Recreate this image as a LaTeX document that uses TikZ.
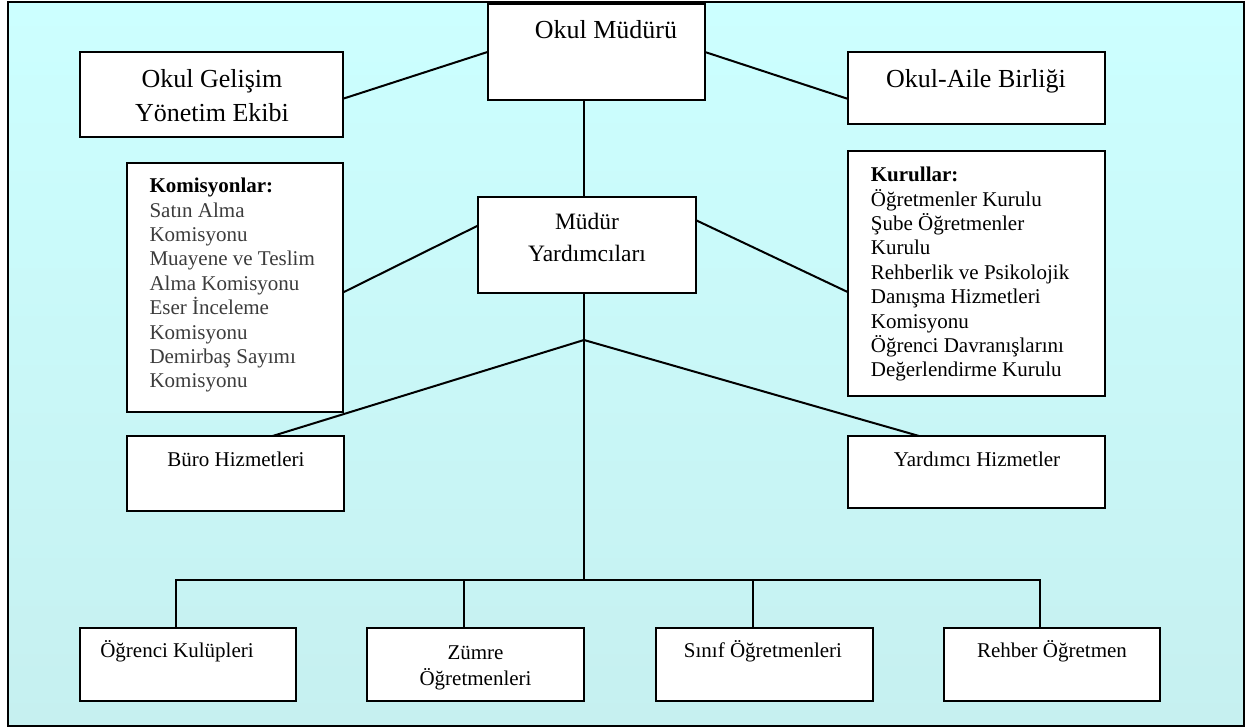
\documentclass[tikz,border=0pt]{standalone}
\usepackage{fontspec}
\setmainfont{Liberation Serif}
\usetikzlibrary{calc}
\definecolor{bgtop}{RGB}{204,255,255}
\definecolor{bgbot}{RGB}{198,240,240}
\definecolor{itemgray}{RGB}{60,60,60}
\tikzset{
  box/.style={draw=black, line width=2pt, fill=white, inner sep=0pt, outer sep=0pt},
  conn/.style={draw=black, line width=2pt},
  big/.style={font=\fontsize{26}{34.4}\selectfont, inner sep=0pt, align=center, anchor=base},
  mid/.style={font=\fontsize{23.5}{32.4}\selectfont, inner sep=0pt, align=center, anchor=base},
  small/.style={font=\fontsize{21}{26}\selectfont, inner sep=0pt, align=center, anchor=base},
  list/.style={font=\fontsize{21}{24.4}\selectfont, inner sep=0pt, align=left, anchor=base west},
}
\begin{document}
\begin{tikzpicture}[x=1pt, y=-1pt]
\useasboundingbox (0,0) rectangle (1248,727);
% frame
\path[top color=bgtop, bottom color=bgbot] (8,2) rectangle (1244,726);
\draw[line width=2.4pt] (8,2) rectangle (1244,726);

% boxes
\node[box, minimum width=217.5, minimum height=96] (om) at (596.25,52) {};
\node[box, minimum width=263, minimum height=85] (og) at (211.5,94.5) {};
\node[box, minimum width=257.1, minimum height=72] (oab) at (976.15,88) {};
\node[box, minimum width=216, minimum height=249] (kom) at (235,287.5) {};
\node[box, minimum width=218.1, minimum height=96] (my) at (586.55,245) {};
\node[box, minimum width=257.1, minimum height=245.3] (kur) at (976.15,273.35) {};
\node[box, minimum width=217, minimum height=75] (buro) at (235.5,473.5) {};
\node[box, minimum width=257.1, minimum height=72] (yh) at (976.15,472) {};
\node[box, minimum width=216, minimum height=73] (ok) at (188,664.5) {};
\node[box, minimum width=217, minimum height=73] (zo) at (475.5,664.5) {};
\node[box, minimum width=217, minimum height=73] (so) at (764.5,664.5) {};
\node[box, minimum width=216, minimum height=73] (ro) at (1052,664.5) {};

% texts (base anchor = baseline of the last line)
\node[big] (omt) at (606,39) {Okul Müdürü};
\node[big] (ogt) at (212,121.7) {Okul Gelişim\\Yönetim Ekibi};
\node[big] (oabt) at (976,87.7) {Okul-Aile Birliği};
\node[mid] (myt) at (587,261.7) {Müdür\\Yardımcıları};
\node[list] (komt) at (149.3,387.9) {\textbf{Komisyonlar:}\\\color{itemgray}Satın Alma\\\color{itemgray}Komisyonu\\\color{itemgray}Muayene ve Teslim\\\color{itemgray}Alma Komisyonu\\\color{itemgray}Eser İnceleme\\\color{itemgray}Komisyonu\\\color{itemgray}Demirbaş Sayımı\\\color{itemgray}Komisyonu};
\node[list] (kurt) at (870.7,376.9) {\textbf{Kurullar:}\\Öğretmenler Kurulu\\Şube Öğretmenler\\Kurulu\\Rehberlik ve Psikolojik\\Danışma Hizmetleri\\Komisyonu\\Öğrenci Davranışlarını\\Değerlendirme Kurulu};
\node[small] (burot) at (236,466) {Büro Hizmetleri};
\node[small] (yht) at (977,466) {Yardımcı Hizmetler};
\node[small] (okt) at (177,657.7) {Öğrenci Kulüpleri};
\node[small] (zot) at (475.5,685) {Zümre\\Öğretmenleri};
\node[small] (sot) at (763,657.7) {Sınıf Öğretmenleri};
\node[small] (rot) at (1052,657.7) {Rehber Öğretmen};

% connectors
\coordinate (tx) at (584,0);
\coordinate (fork) at (584,340);
\coordinate (bus) at (584,580);
\draw[conn] ($(og.north east)!0.55!(og.south east)$) -- (om.west);
\draw[conn] (om.east) -- ($(oab.north west)!0.65!(oab.south west)$);
\draw[conn] (om.south -| tx) -- (my.north -| tx);
\draw[conn] ($(my.north west)!0.30!(my.south west)$) -- ($(kom.north east)!0.52!(kom.south east)$);
\draw[conn] ($(my.north east)!0.24!(my.south east)$) -- ($(kur.north west)!0.576!(kur.south west)$);
\draw[conn] (my.south -| tx) -- (bus);
\draw[conn] (fork) -- ($(buro.north west)!0.671!(buro.north east)$);
\draw[conn] (fork) -- ($(yh.north west)!0.278!(yh.north east)$);
\coordinate (d1) at ($(ok.north west)!0.445!(ok.north east)$);
\coordinate (d2) at ($(zo.north west)!0.445!(zo.north east)$);
\coordinate (d3) at ($(so.north west)!0.445!(so.north east)$);
\coordinate (d4) at ($(ro.north west)!0.445!(ro.north east)$);
\draw[conn] (d1) -- (d1 |- bus) -- (d4 |- bus) -- (d4);
\draw[conn] (d2) -- (d2 |- bus);
\draw[conn] (d3) -- (d3 |- bus);
\end{tikzpicture}
\end{document}
